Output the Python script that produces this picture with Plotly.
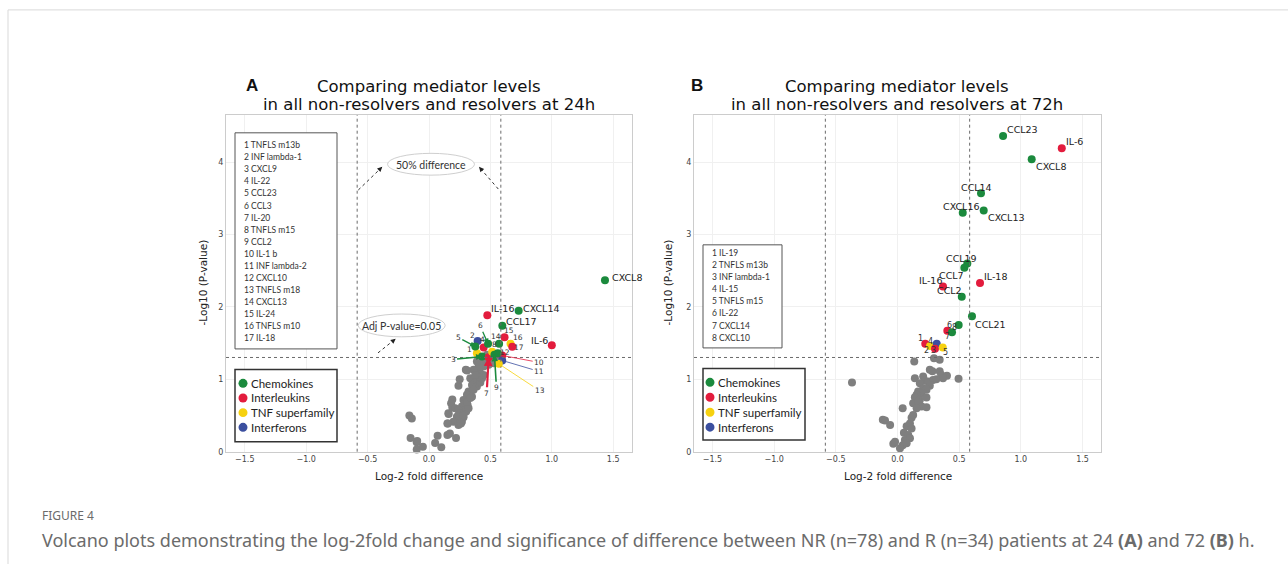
import plotly.graph_objects as go
import math

W, H = 1288, 569

# ---------------- DATA ----------------
# Panel A (24h) - unlabelled mediators
a_gray_x = [-0.16, -0.14, -0.15, -0.10, -0.10, -0.05, 0.05, 0.07, 0.10, 0.15, 0.17, 0.22, 0.15, 0.16,
            0.19, 0.19, 0.18, 0.24, 0.25, 0.30, 0.31, 0.39, 0.336, 0.363, 0.377, 0.35, 0.39, 0.418,
            0.432, 0.445, 0.418, 0.322, 0.336, 0.309, 0.35, 0.363, 0.281, 0.295, 0.314, 0.268, 0.287,
            0.213, 0.24, 0.26, 0.303, 0.322, 0.158, 0.227, 0.254, 0.281, 0.199, 0.268, 0.24, 0.254,
            0.153, 0.418, 0.432, 0.445, 0.473, 0.486, 0.459, 0.404, 0.50, 0.514, 0.473, 0.39, 0.363,
            0.404, 0.527, 0.541, 0.377, 0.26, 0.24, 0.28, 0.31, 0.336, -0.096]
a_gray_y = [0.50, 0.46, 0.19, 0.13, 0.03, 0.07, 0.12, 0.22, 0.06, 0.23, 0.25, 0.19, 0.39, 0.52,
            0.61, 0.72, 0.67, 0.91, 1.00, 1.13, 1.12, 1.10, 1.015, 0.99, 0.946, 0.92, 0.90, 0.955,
            1.015, 1.06, 1.084, 0.83, 0.807, 0.785, 0.76, 0.854, 0.715, 0.669, 0.646, 0.623, 0.577,
            0.60, 0.577, 0.53, 0.554, 0.60, 0.53, 0.484, 0.461, 0.475, 0.415, 0.415, 0.37, 0.40,
            0.39, 1.27, 1.22, 1.176, 1.246, 1.20, 1.29, 1.176, 1.27, 1.315, 1.338, 1.246, 1.13,
            1.04, 1.22, 1.29, 1.06, 0.39, 0.50, 0.50, 0.69, 0.74, 0.146]

# Panel A named mediators
a_named = ["IL-16", "CXCL14", "CCL17", "IL-6", "CXCL8"]
a_named_x = [0.475, 0.730, 0.597, 1.000, 1.433]
a_named_y = [1.886, 1.945, 1.739, 1.471, 2.366]
a_named_cat = ["Interleukins", "Chemokines", "Chemokines", "Interleukins", "Chemokines"]

# Panel A numbered mediators
a_num_names = ["TNFLS m13b", "INF lambda-1", "CXCL9", "IL-22", "CCL23", "CCL3", "IL-20", "TNFLS m15",
               "CCL2", "IL-1 b", "INF lambda-2", "CXCL10", "TNFLS m18", "CXCL13", "IL-24",
               "TNFLS m10", "IL-18"]
a_num_x = [0.39, 0.396, 0.432, 0.445, 0.377, 0.481, 0.486, 0.514, 0.533, 0.596, 0.596, 0.56,
           0.568, 0.571, 0.615, 0.664, 0.678]
a_num_y = [1.36, 1.53, 1.315, 1.44, 1.453, 1.49, 1.305, 1.38, 1.338, 1.329, 1.26, 1.36,
           1.214, 1.49, 1.58, 1.49, 1.45]
a_num_cat = ["TNF superfamily", "Interferons", "Chemokines", "Interleukins", "Chemokines",
             "Chemokines", "Interleukins", "TNF superfamily", "Chemokines", "Interleukins",
             "Interferons", "Chemokines", "TNF superfamily", "Chemokines", "Interleukins",
             "TNF superfamily", "Interleukins"]

# Panel B (72h) - unlabelled mediators
b_gray_x = [0.136, 0.296, 0.342, 0.262, 0.283, 0.342, 0.354, 0.401, 0.495, 0.141, 0.208, 0.221,
            0.248, 0.288, 0.315, 0.369, 0.181, 0.262, 0.208, 0.235, 0.167, 0.195, 0.155, 0.141,
            0.235, 0.181, 0.127, 0.167, 0.195, 0.235, 0.155, 0.042, 0.114, 0.127, -0.119, -0.101,
            -0.06, 0.101, 0.074, 0.114, 0.052, 0.087, 0.06, 0.101, -0.034, 0.042, 0.074, -0.02,
            0.02, -0.369]
b_gray_y = [1.245, 1.29, 1.27, 1.13, 1.11, 1.11, 1.06, 1.05, 1.006, 1.015, 1.04, 0.98,
            0.97, 0.99, 1.0, 1.015, 0.945, 0.91, 0.876, 0.854, 0.83, 0.807, 0.785, 0.752,
            0.75, 0.715, 0.669, 0.69, 0.623, 0.613, 0.60, 0.60, 0.47, 0.507, 0.44, 0.43,
            0.37, 0.39, 0.35, 0.32, 0.26, 0.23, 0.16, 0.184, 0.11, 0.09, 0.115, 0.138,
            0.046, 0.955]

# Panel B named mediators
b_named = ["CCL23", "IL-6", "CXCL8", "CCL14", "CXCL16", "CXCL13", "CCL19", "CCL7", "IL-16",
           "IL-18", "CCL2", "CCL21"]
b_named_x = [0.856, 1.332, 1.088, 0.677, 0.529, 0.699, 0.566, 0.542, 0.369, 0.669, 0.521, 0.604]
b_named_y = [4.36, 4.19, 4.04, 3.57, 3.30, 3.33, 2.60, 2.54, 2.28, 2.33, 2.14, 1.87]
b_named_cat = ["Chemokines", "Interleukins", "Chemokines", "Chemokines", "Chemokines",
               "Chemokines", "Chemokines", "Chemokines", "Interleukins", "Interleukins",
               "Chemokines", "Chemokines"]

# Panel B numbered mediators
b_num_names = ["IL-19", "TNFLS m13b", "INF lambda-1", "IL-15", "TNFLS m15", "IL-22", "CXCL14", "CXCL10"]
b_num_x = [0.225, 0.264, 0.318, 0.304, 0.367, 0.404, 0.442, 0.496]
b_num_y = [1.49, 1.46, 1.49, 1.42, 1.44, 1.67, 1.65, 1.75]
b_num_cat = ["Interleukins", "TNF superfamily", "Interferons", "Interleukins", "TNF superfamily",
             "Interleukins", "Chemokines", "Chemokines"]

categories = ["Chemokines", "Interleukins", "TNF superfamily", "Interferons"]

fc_threshold = 1.5      # 50% difference
p_threshold = 0.05      # adjusted p-value

# ---------------- STYLE ----------------
CAT_COLORS = {"Chemokines": "#1b8a3d", "Interleukins": "#e31c3d",
              "TNF superfamily": "#f6d10f", "Interferons": "#3b4f9f"}
GRAY = "#7f7f7f"
FONT = "DejaVu Sans"
LFONT = "Lato"


def PX(x):
    return x / W


def PY(y):
    return 1 - y / H


fig = go.Figure()

panels = [
    ("x", "y", a_gray_x, a_gray_y, a_named_x + a_num_x, a_named_y + a_num_y, a_named_cat + a_num_cat),
    ("x2", "y2", b_gray_x, b_gray_y, b_named_x + b_num_x, b_named_y + b_num_y, b_named_cat + b_num_cat),
]
for xa, ya, gx, gy, cx, cy, cc in panels:
    fig.add_trace(go.Scatter(x=gx, y=gy, mode="markers", xaxis=xa, yaxis=ya, cliponaxis=False,
                             marker=dict(color=GRAY, size=8), hoverinfo="skip"))
    fig.add_trace(go.Scatter(x=cx, y=cy, mode="markers", xaxis=xa, yaxis=ya, cliponaxis=False,
                             marker=dict(color=[CAT_COLORS[c] for c in cc], size=8),
                             hoverinfo="skip"))

annotations = []
shapes = []


def paper_text(x, y, text, font, xanchor="center", **kw):
    d = dict(x=PX(x), y=PY(y), xref="paper", yref="paper", text=text, showarrow=False,
             xanchor=xanchor, yanchor="middle", font=font)
    d.update(kw)
    annotations.append(d)


# threshold lines
lfc = math.log2(fc_threshold)
lp = -math.log10(p_threshold)
for xa, ya in (("x", "y"), ("x2", "y2")):
    for xv in (-lfc, lfc):
        shapes.append(dict(type="line", xref=xa, yref=ya + " domain", x0=xv, x1=xv, y0=0, y1=1,
                           line=dict(color="#6a6a6a", width=1, dash="dot")))
    shapes.append(dict(type="line", xref=xa + " domain", yref=ya, x0=0, x1=1, y0=lp, y1=lp,
                       line=dict(color="#6a6a6a", width=1, dash="dot")))

# named labels panel A: (xanchor, xshift, yshift)
a_named_pos = [("left", 2, 7), ("left", 2, 2), ("left", 2, 4), ("right", -2, 5), ("left", 5, 3)]
for n, x, y, p in zip(a_named, a_named_x, a_named_y, a_named_pos):
    annotations.append(dict(x=x, y=y, xref="x", yref="y", text=n, showarrow=False, xanchor=p[0],
                            yanchor="middle", xshift=p[1], yshift=p[2],
                            font=dict(family=FONT, size=9.5, color="#222")))

b_named_pos = [("left", 2, 6), ("left", 2, 7), ("left", 2, -7), ("center", -5, 6), ("center", -2, 6),
               ("left", 2, -7), ("center", -6, 5), ("right", 2, -8), ("right", 1, 6), ("left", 2, 6),
               ("right", 2, 6), ("left", 1, -8)]
for n, x, y, p in zip(b_named, b_named_x, b_named_y, b_named_pos):
    annotations.append(dict(x=x, y=y, xref="x2", yref="y2", text=n, showarrow=False, xanchor=p[0],
                            yanchor="middle", xshift=p[1], yshift=p[2],
                            font=dict(family=FONT, size=9.5, color="#222")))

# numbered labels panel A: either arrow (ax, ay, width) or plain offset (dx, dy)
a_num_pos = {1: ("t", -7, 4), 2: ("t", -5, 5), 3: ("a", -29, 3, 1.5), 4: ("t", -1, 8),
             5: ("a", -17, -9, 1.3), 6: ("a", -8, -18, 1.3), 7: ("a", -2, 36, 2.2),
             8: ("t", 2, 7), 9: ("a", 2, 33, 1.6), 10: ("a", 37, 7, 0.8), 11: ("a", 37, 11, 0.8),
             12: ("t", 7, 1), 13: ("a", 41, 27, 0.8), 14: ("t", -3, 7), 15: ("t", 4, 7),
             16: ("t", 7, 6), 17: ("t", 7, -1)}
for i, (x, y, c) in enumerate(zip(a_num_x, a_num_y, a_num_cat), start=1):
    p = a_num_pos[i]
    f = dict(family=FONT, size=7.5, color="#333")
    if p[0] == "a":
        annotations.append(dict(x=x, y=y, xref="x", yref="y", text=str(i), showarrow=True,
                                ax=p[1], ay=p[2], arrowhead=2, arrowsize=0.8, arrowwidth=p[3],
                                arrowcolor=CAT_COLORS[c], standoff=0, startstandoff=0, font=f))
    else:
        annotations.append(dict(x=x, y=y, xref="x", yref="y", text=str(i), showarrow=False,
                                xanchor="center", yanchor="middle",
                                xshift=p[1], yshift=p[2], font=f))

b_num_pos = [(-5, 5), (-4, -5), (-3, -7), (-4, 7), (3, -5), (2, 5), (-5, -4), (-4, -3)]
for i, (x, y, p) in enumerate(zip(b_num_x, b_num_y, b_num_pos), start=1):
    annotations.append(dict(x=x, y=y, xref="x2", yref="y2", text=str(i), showarrow=False,
                            xanchor="center", yanchor="middle",
                            xshift=p[0], yshift=p[1], font=dict(family=FONT, size=8, color="#333")))


# numbered lists
def num_list(names, left, top, right, bottom, tx, ty0, dy):
    shapes.append(dict(type="rect", xref="paper", yref="paper", x0=PX(left), x1=PX(right),
                       y0=PY(bottom), y1=PY(top), line=dict(color="#555", width=1),
                       fillcolor="white", layer="above"))
    for k, n in enumerate(names):
        paper_text(tx, ty0 + k * dy, f"{k + 1} {n}", dict(family=LFONT, size=8.5, color="#333"),
                   xanchor="left")


num_list(a_num_names, 235, 134, 337, 352, 242, 146.7, 12.125)
num_list(b_num_names, 703, 247, 782, 351, 710, 255, 12.24)


def cat_legend(left, top, right, bottom, cx, cy0, dy, tx):
    shapes.append(dict(type="rect", xref="paper", yref="paper", x0=PX(left), x1=PX(right),
                       y0=PY(bottom), y1=PY(top), line=dict(color="#333", width=1.5),
                       fillcolor="white", layer="above"))
    for k, c in enumerate(categories):
        cy = cy0 + k * dy
        shapes.append(dict(type="circle", xref="paper", yref="paper", x0=PX(cx - 4.5),
                           x1=PX(cx + 4.5), y0=PY(cy + 4.5), y1=PY(cy - 4.5),
                           fillcolor=CAT_COLORS[c], line=dict(width=0), layer="above"))
        paper_text(tx, cy, c, dict(family=LFONT, size=11.5, color="#222"), xanchor="left")


cat_legend(235, 372.7, 337, 445.7, 243, 386.7, 14.8, 249)
cat_legend(703, 371.7, 805, 444, 710, 385.7, 15.1, 716)

# ellipse annotations (panel A)
for cx, cy, w, h, txt in ((431, 165.7, 87, 22, "50% difference"),
                          (401.7, 328.3, 87, 23, "Adj P-value=0.05")):
    shapes.append(dict(type="circle", xref="paper", yref="paper", x0=PX(cx - w / 2), x1=PX(cx + w / 2),
                       y0=PY(cy + h / 2), y1=PY(cy - h / 2), line=dict(color="#cfcfcf", width=1),
                       fillcolor="white"))
    paper_text(cx, cy + 1, txt, dict(family=LFONT, size=10.5, color="#333"))

for (x0, y0), (x1, y1) in (((358.3, 191.7), (382.3, 168.3)), ((498.3, 190.7), (479, 168.3)),
                           ((378, 356), (395.7, 341.7))):
    shapes.append(dict(type="line", xref="paper", yref="paper", x0=PX(x0), y0=PY(y0), x1=PX(x1),
                       y1=PY(y1), line=dict(color="#333", width=1, dash="dot")))
    L = math.hypot(x0 - x1, y0 - y1)
    annotations.append(dict(x=PX(x1), y=PY(y1), xref="paper", yref="paper", text="",
                            showarrow=True, ax=(x0 - x1) / L * 6, ay=(y0 - y1) / L * 6,
                            arrowhead=2, arrowsize=1, arrowwidth=1, arrowcolor="#222"))

# titles
for letter, lx, cx, hour in (("A", 252, 429, "24h"), ("B", 697, 897, "72h")):
    paper_text(lx, 86, f"<b>{letter}</b>", dict(family="Liberation Sans", size=17, color="#111"))
    paper_text(cx, 87.5, "Comparing mediator levels", dict(family=FONT, size=16.5, color="#111"))
    paper_text(cx, 105.5, f"in all non-resolvers and resolvers at {hour}",
               dict(family=FONT, size=16.5, color="#111"))

# axis titles
for cx, yx in ((429, 203), (897.5, 668)):
    paper_text(cx, 480, "Log-2 fold difference", dict(family=FONT, size=10.5, color="#222"))
    paper_text(yx, 285, "-Log10 (P-value)", dict(family=FONT, size=10.5, color="#222"),
               textangle=-90)

# caption
paper_text(40, 520, "FIGURE 4", dict(family="Noto Sans", size=12, color="#6b6b6b"), xanchor="left")
paper_text(40, 545, "Volcano plots demonstrating the log-2fold change and significance of difference "
                    "between NR (n=78) and R (n=34) patients at 24 <b>(A)</b> and 72 <b>(B)</b> h.",
           dict(family="Noto Sans", size=18, color="#6b6b6b"), xanchor="left")

# page frame
shapes.append(dict(type="line", xref="paper", yref="paper", x0=PX(8), x1=1, y0=PY(10), y1=PY(10),
                   line=dict(color="#d9d9d9", width=1)))
shapes.append(dict(type="line", xref="paper", yref="paper", x0=PX(8), x1=PX(8), y0=0, y1=PY(10),
                   line=dict(color="#d9d9d9", width=1)))

axis_common = dict(showgrid=True, gridcolor="#f0f0f0", zeroline=False, showline=True,
                   linecolor="#cccccc", linewidth=1, mirror=True, ticks="",
                   tickfont=dict(family=FONT, size=8, color="#444"))
ydom = [1 - 455.7 / H, 1 - 116 / H]

fig.update_layout(
    width=W, height=H, margin=dict(l=0, r=0, t=0, b=0),
    paper_bgcolor="white", plot_bgcolor="white", showlegend=False,
    xaxis=dict(domain=[226 / W, 632 / W], range=[-1.653, 1.653], dtick=0.5, tick0=0,
               tickformat=".1f", anchor="y", **axis_common),
    yaxis=dict(domain=ydom, range=[0, 4.65], dtick=1, tick0=0, anchor="x", **axis_common),
    xaxis2=dict(domain=[694 / W, 1101 / W], range=[-1.65, 1.65], dtick=0.5, tick0=0,
                tickformat=".1f", anchor="y2", **axis_common),
    yaxis2=dict(domain=ydom, range=[0, 4.65], dtick=1, tick0=0, anchor="x2", **axis_common),
    annotations=annotations, shapes=shapes,
)

fig.write_html("out.html")
